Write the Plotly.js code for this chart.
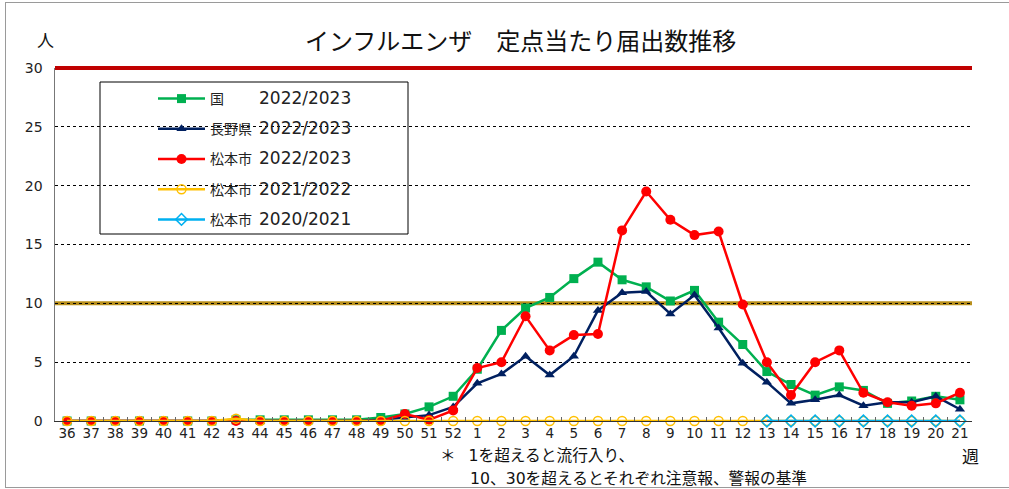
<!DOCTYPE html>
<html>
<head>
<meta charset="utf-8">
<script src="https://cdn.plot.ly/plotly-3.0.1.min.js"></script>
<style>
html,body{margin:0;padding:0;background:#fff;}
#wrap{position:relative;width:1009px;height:489px;overflow:hidden;}
#chart{position:absolute;left:0;top:0;width:1009px;height:489px;}
#frame{position:absolute;left:5px;top:2px;width:1010px;height:484px;border-left:1px solid #9a9a9a;border-top:1px solid #9a9a9a;border-bottom:1px solid #9a9a9a;pointer-events:none;}
</style>
</head>
<body>
<div id="wrap"><div id="chart"></div><div id="frame"></div></div>
<script>
// ---- data ----
const weeks = ['36','37','38','39','40','41','42','43','44','45','46','47','48','49','50','51','52',
  '1','2','3','4','5','6','7','8','9','10','11','12','13','14','15','16','17','18','19','20','21'];

const kuni2022 = [0.0,0.0,0.0,0.0,0.0,0.0,0.0,0.1,0.1,0.1,0.1,0.1,0.1,0.3,0.6,1.2,2.1,
  4.4,7.7,9.6,10.5,12.1,13.5,12.0,11.4,10.2,11.1,8.4,6.5,4.2,3.1,2.2,2.9,2.6,1.5,1.7,2.1,1.8];

const nagano2022 = [0.0,0.0,0.0,0.0,0.0,0.0,0.0,0.1,0.0,0.0,0.0,0.0,0.0,0.1,0.3,0.5,1.2,
  3.2,4.0,5.5,3.9,5.5,9.4,10.9,11.0,9.1,10.7,7.9,4.9,3.3,1.5,1.8,2.2,1.3,1.6,1.6,2.1,1.0];

const matsumoto2022 = [0.0,0.0,0.0,0.0,0.0,0.0,0.0,0.0,0.0,0.0,0.0,0.0,0.0,0.0,0.6,0.1,0.9,
  4.5,5.0,8.9,6.0,7.3,7.4,16.2,19.5,17.1,15.8,16.1,9.9,5.0,2.2,5.0,6.0,2.4,1.6,1.3,1.5,2.4];

const matsumoto2021 = [0.0,0.0,0.0,0.0,0.0,0.0,0.0,0.2,0.0,0.0,0.0,0.0,0.0,0.0,0.0,0.0,0.0,
  0.0,0.0,0.0,0.0,0.0,0.0,0.0,0.0,0.0,0.0,0.0,0.0,0.0,0.0,0.0,0.0,0.0,0.0,0.0,0.0,0.0];

const matsumoto2020 = [null,null,null,null,null,null,null,null,null,null,null,null,null,null,null,null,null,
  null,null,null,null,null,null,null,null,null,null,null,null,0.0,0.0,0.0,0.0,0.0,0.0,0.0,0.0,0.0];

const seriesLabels = ['国\u3000\u3000','長野県','松本市','松本市','松本市'];
const seriesSeasons = ['2022/2023','2022/2023','2022/2023','2021/2022','2020/2021'];
const thresholds = [10, 30];
const yTicks = [0,5,10,15,20,25,30];
const yMax = 30;

// ---- plot ----
const FONT = 'DejaVu Sans, Noto Sans CJK JP, sans-serif';
const JFONT = 'Noto Sans CJK JP, sans-serif';
const W = 1009, H = 489, ML = 55, MR = 37, MT = 68, MB = 68;
const PW = W - ML - MR, PH = H - MT - MB;
const px = x => (x - ML) / PW;
const py = y => (H - MB - y) / PH;

const names = seriesLabels.map((l,i) => l + '\u2002<span style="font-size:17px">' + seriesSeasons[i] + '</span>');

function tr(y, name, color, symbol, size, group){
  return {
    type:'scatter', mode:'lines+markers', x:weeks, y:y, name:name,
    legendgroup:group, connectgaps:false, cliponaxis:false,
    line:{color:color, width:2.5},
    marker:{symbol:symbol, size:size, color:color, line:{width:0}}
  };
}

const traces = [
  tr(kuni2022, names[0], '#00B050', 'square', 9, 'g1'),
  tr(nagano2022, names[1], '#002060', 'triangle-up', 9, 'g2'),
  tr(matsumoto2022, names[2], '#FF0000', 'circle', 10, 'g3'),
  tr(matsumoto2021, names[3], '#FFC000', 'circle-open', 9, 'g4'),
  tr(matsumoto2020, names[4], '#00B0F0', 'diamond-open', 9, 'g5')
];
traces[3].marker = {symbol:'circle-open', size:9, color:'#FFC000', line:{width:1.5}};
traces[4].marker = {symbol:'diamond-open', size:9, color:'#00B0F0', line:{width:1.5}};

const thrColors = ['#B88F1C', '#C00000'];
const shapes = [];
// legend box
shapes.push({type:'rect', xref:'paper', yref:'paper', x0:px(100), x1:px(408), y0:py(234), y1:py(82),
  line:{color:'#000', width:1}, fillcolor:'#fff', layer:'between'});
thresholds.forEach((t,i) => shapes.push({
  type:'line', xref:'paper', yref:'paper', x0:0, x1:1, y0:t/yMax, y1:t/yMax,
  line:{color:thrColors[i], width:4}, layer:'between'
}));

const layout = {
  width:W, height:H, margin:{l:ML, r:MR, t:MT, b:MB},
  paper_bgcolor:'rgba(0,0,0,0)', plot_bgcolor:'#fff',
  showlegend:true,
  legend:{x:px(153), y:py(83), xanchor:'left', yanchor:'top', bgcolor:'rgba(0,0,0,0)',
    borderwidth:0, font:{family:FONT, size:14, color:'#222'}, tracegroupgap:9, itemwidth:47},
  xaxis:{type:'category', range:[-0.5, weeks.length-0.5], showgrid:false, zeroline:false,
    showline:true, linecolor:'#333', linewidth:1, ticks:'inside', ticklen:4, tickcolor:'#666',
    tickson:'boundaries', tickangle:0, tickfont:{family:FONT, size:13.5, color:'#222'}, fixedrange:true},
  yaxis:{range:[0,yMax], tickvals:yTicks, showgrid:true, gridcolor:'#000', griddash:'dot', gridwidth:1,
    zeroline:false, showline:true, linecolor:'#777', linewidth:1.5, ticks:'', ticklabelstandoff:8,
    tickfont:{family:FONT, size:14, color:'#222'}, fixedrange:true},
  shapes:shapes,
  annotations:[
    {xref:'paper', yref:'paper', x:px(520), y:py(40), text:'インフルエンザ\u3000定点当たり届出数推移', showarrow:false,
      xanchor:'center', yanchor:'middle', font:{family:JFONT, size:24, color:'#111'}},
    {xref:'paper', yref:'paper', x:px(45), y:py(40), text:'人', showarrow:false,
      xanchor:'center', yanchor:'middle', font:{family:JFONT, size:17, color:'#111'}},
    {xref:'paper', yref:'paper', x:px(970), y:py(455), text:'週', showarrow:false,
      xanchor:'center', yanchor:'middle', font:{family:JFONT, size:17, color:'#111'}},
    {xref:'paper', yref:'paper', x:px(438), y:py(455), text:'＊\u2002 1を超えると流行入り、', showarrow:false,
      xanchor:'left', yanchor:'middle', font:{family:FONT, size:15.7, color:'#111'}},
    {xref:'paper', yref:'paper', x:px(468), y:py(478), text:'10、30を超えるとそれぞれ注意報、警報の基準', showarrow:false,
      xanchor:'left', yanchor:'middle', font:{family:FONT, size:15.7, color:'#111'}}
  ]
};

Plotly.newPlot('chart', traces, layout, {displayModeBar:false, staticPlot:true});
</script>
</body>
</html>
